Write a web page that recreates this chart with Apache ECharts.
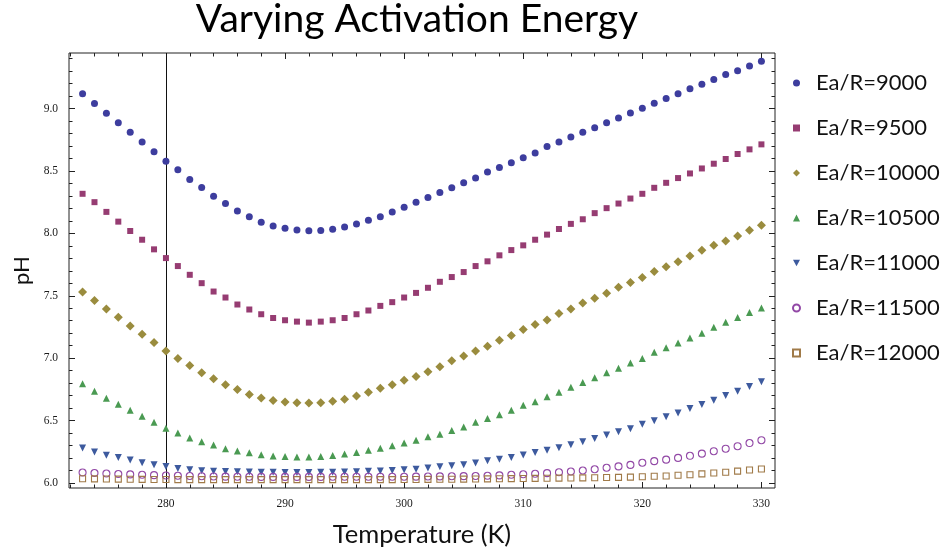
<!DOCTYPE html>
<html>
<head>
<meta charset="utf-8">
<script src="https://cdn.jsdelivr.net/npm/echarts@6/dist/echarts.min.js"></script>
<style>
html,body{margin:0;padding:0;background:#fff;}
#chart{width:942px;height:555px;}
</style>
</head>
<body>
<div id="chart"></div>
<script>
// ---------- data ----------
const temps = [273,274,275,276,277,278,279,280,281,282,283,284,285,286,287,288,289,290,291,292,293,294,295,296,297,298,299,300,301,302,303,304,305,306,307,308,309,310,311,312,313,314,315,316,317,318,319,320,321,322,323,324,325,326,327,328,329,330];

const ea9000 = [9.118,9.040,8.962,8.887,8.810,8.732,8.654,8.577,8.510,8.432,8.367,8.298,8.239,8.180,8.134,8.090,8.060,8.040,8.027,8.020,8.022,8.032,8.050,8.076,8.105,8.134,8.172,8.210,8.250,8.287,8.327,8.365,8.405,8.443,8.491,8.528,8.566,8.606,8.644,8.695,8.732,8.772,8.810,8.847,8.887,8.925,8.965,9.002,9.043,9.080,9.118,9.158,9.195,9.233,9.273,9.303,9.340,9.378];

const ea9500 = [8.317,8.250,8.172,8.094,8.019,7.949,7.872,7.802,7.738,7.668,7.601,7.534,7.486,7.430,7.390,7.352,7.322,7.304,7.293,7.285,7.293,7.304,7.322,7.352,7.382,7.419,7.449,7.486,7.523,7.564,7.612,7.650,7.690,7.738,7.776,7.824,7.866,7.904,7.949,7.990,8.035,8.076,8.113,8.162,8.202,8.239,8.279,8.317,8.365,8.405,8.443,8.480,8.520,8.558,8.596,8.636,8.673,8.713];

const ea10000 = [7.531,7.462,7.395,7.328,7.258,7.191,7.125,7.057,6.998,6.942,6.883,6.835,6.787,6.749,6.709,6.682,6.661,6.648,6.642,6.640,6.642,6.655,6.672,6.698,6.728,6.760,6.787,6.824,6.854,6.891,6.932,6.980,7.017,7.057,7.095,7.143,7.181,7.229,7.269,7.306,7.358,7.395,7.443,7.481,7.521,7.569,7.607,7.647,7.695,7.732,7.773,7.818,7.865,7.904,7.939,7.979,8.025,8.065];

const ea10500 = [6.795,6.736,6.679,6.631,6.583,6.535,6.486,6.438,6.401,6.361,6.331,6.305,6.275,6.256,6.242,6.227,6.216,6.212,6.208,6.208,6.212,6.220,6.232,6.245,6.262,6.278,6.298,6.320,6.342,6.371,6.390,6.420,6.449,6.486,6.516,6.546,6.583,6.623,6.650,6.691,6.728,6.768,6.805,6.843,6.883,6.920,6.961,6.998,7.047,7.084,7.121,7.162,7.199,7.248,7.288,7.326,7.366,7.403];

const ea11000 = [6.281,6.249,6.222,6.205,6.185,6.162,6.146,6.133,6.117,6.106,6.098,6.094,6.092,6.090,6.088,6.087,6.086,6.085,6.085,6.085,6.086,6.087,6.089,6.091,6.094,6.097,6.101,6.106,6.111,6.120,6.130,6.138,6.147,6.160,6.178,6.190,6.205,6.225,6.244,6.262,6.282,6.307,6.330,6.356,6.385,6.410,6.435,6.470,6.498,6.530,6.561,6.597,6.628,6.663,6.702,6.735,6.773,6.812];

const ea11500 = [6.084,6.080,6.076,6.072,6.069,6.066,6.063,6.060,6.058,6.056,6.054,6.052,6.051,6.050,6.050,6.049,6.049,6.049,6.049,6.049,6.049,6.050,6.050,6.050,6.050,6.050,6.050,6.050,6.051,6.052,6.053,6.054,6.055,6.056,6.058,6.061,6.066,6.070,6.074,6.079,6.086,6.092,6.100,6.110,6.122,6.133,6.145,6.162,6.175,6.187,6.201,6.218,6.235,6.255,6.275,6.295,6.320,6.343];

const ea12000 = [6.034,6.033,6.032,6.031,6.030,6.029,6.028,6.028,6.027,6.027,6.027,6.027,6.027,6.027,6.027,6.027,6.027,6.027,6.027,6.027,6.027,6.027,6.027,6.027,6.027,6.027,6.027,6.028,6.028,6.029,6.030,6.030,6.031,6.032,6.033,6.034,6.035,6.036,6.037,6.038,6.039,6.040,6.041,6.042,6.044,6.045,6.047,6.050,6.054,6.056,6.062,6.066,6.073,6.080,6.086,6.095,6.104,6.112];

const seriesNames = ['Ea/R=9000','Ea/R=9500','Ea/R=10000','Ea/R=10500','Ea/R=11000','Ea/R=11500','Ea/R=12000'];

const xMajorTicks = [280,290,300,310,320,330];
const xMinorTicks = [272,274,276,278,282,284,286,288,292,294,296,298,302,304,306,308,312,314,316,318,322,324,326,328];
const yMajorTicks = [6.0,6.5,7.0,7.5,8.0,8.5,9.0];
const yMinorTicks = [6.1,6.2,6.3,6.4,6.6,6.7,6.8,6.9,7.1,7.2,7.3,7.4,7.6,7.7,7.8,7.9,8.1,8.2,8.3,8.4,8.6,8.7,8.8,8.9,9.1,9.2,9.3,9.4];
const markerTemp = 280;

// ---------- chart ----------
const X_MIN = 271.86, X_MAX = 331.14, Y_MIN = 5.96, Y_MAX = 9.445;
const chart = echarts.init(document.getElementById('chart'), null, {renderer:'canvas'});

function pairs(vals){ return temps.map((t,i)=>[t, vals[i]]); }

const tickFont = {fontFamily:'Liberation Serif', fontSize:11.5, color:'#1a1a1a'};

function xAx(position, ticks, len, labels){
  return {
    type:'value', min:X_MIN, max:X_MAX, position:position, gridIndex:0,
    axisLine:{show:false}, splitLine:{show:false}, minorTick:{show:false}, minorSplitLine:{show:false},
    axisTick:{show:true, inside:true, length:len, customValues:ticks, lineStyle:{color:'#222', width:1}},
    axisLabel: labels ? Object.assign({show:true, margin:10, customValues:ticks, formatter:v=>String(Math.round(v))}, tickFont) : {show:false},
    name: labels ? 'Temperature (K)' : '',
    nameLocation:'middle', nameGap:34,
    nameTextStyle:{fontFamily:'Lato', fontSize:25.5, color:'#111'}
  };
}
function yAx(position, ticks, len, labels){
  return {
    type:'value', min:Y_MIN, max:Y_MAX, position:position, gridIndex:0,
    axisLine:{show:false}, splitLine:{show:false}, minorTick:{show:false}, minorSplitLine:{show:false},
    axisTick:{show:true, inside:true, length:len, customValues:ticks, lineStyle:{color:'#222', width:1}},
    axisLabel: labels ? Object.assign({show:true, margin:11, customValues:ticks, formatter:v=>v.toFixed(1)}, tickFont) : {show:false},
    name: labels ? 'pH' : '',
    nameLocation:'middle', nameGap:22, nameRotate:90,
    nameTextStyle:{fontFamily:'Lato', fontSize:22, color:'#111'}
  };
}

const colors = ['#3d3d9e','#963c72','#9a8c3e','#4a9a52','#3d5a9e','#9248a6','#a07a48'];
const symbols = ['circle','rect','diamond','triangle','path://M0,0L10,0L5,9Z','circle','rect'];
const sizes = [7,6,9,7,7,7,6];
const allData = [ea9000,ea9500,ea10000,ea10500,ea11000,ea11500,ea12000];

const series = allData.map((d,i)=>{
  const hollow = i>=5;
  const s = {
    name: seriesNames[i], type:'scatter', xAxisIndex:0, yAxisIndex:0,
    data: pairs(d), symbol: symbols[i], symbolSize: sizes[i], z:3,
    itemStyle: hollow ? {color:'rgba(255,255,255,0)', borderColor:colors[i], borderWidth:1.1, opacity:1}
                      : {color:colors[i], opacity:1},
    emphasis:{disabled:true}
  };
  if(i===0){
    s.markLine = {
      silent:true, symbol:['none','none'], z:1, animation:false,
      label:{show:false},
      lineStyle:{color:'#111', type:'solid', width:1},
      emphasis:{disabled:true},
      data:[{xAxis:markerTemp}]
    };
  }
  return s;
});

const option = {
  animation:false,
  backgroundColor:'#fff',
  color: colors,
  title:{
    text:'Varying Activation Energy',
    left:412, top:-5, textAlign:'center',
    textStyle:{fontFamily:'Lato', fontSize:39, fontWeight:'normal', color:'#000'}
  },
  legend:{
    show:true, orient:'vertical', left:787, top:67,
    itemWidth:7, itemHeight:7, itemGap:23,
    data: seriesNames,
    textStyle:{fontFamily:'Lato', fontSize:22, color:'#111', padding:[0,0,0,11]},
    selectedMode:false
  },
  grid:{
    left:69, right:167, top:53, bottom:67,
    show:true, borderColor:'#222', borderWidth:1, backgroundColor:'#fff',
    containLabel:false
  },
  xAxis:[
    xAx('bottom', xMajorTicks, 6, true),
    xAx('bottom', xMinorTicks, 3.5, false),
    xAx('top', xMajorTicks, 6, false),
    xAx('top', xMinorTicks, 3.5, false)
  ],
  yAxis:[
    yAx('left', yMajorTicks, 6, true),
    yAx('left', yMinorTicks, 3.5, false),
    yAx('right', yMajorTicks, 6, false),
    yAx('right', yMinorTicks, 3.5, false)
  ],
  series: series
};
chart.setOption(option);
</script>
</body>
</html>
